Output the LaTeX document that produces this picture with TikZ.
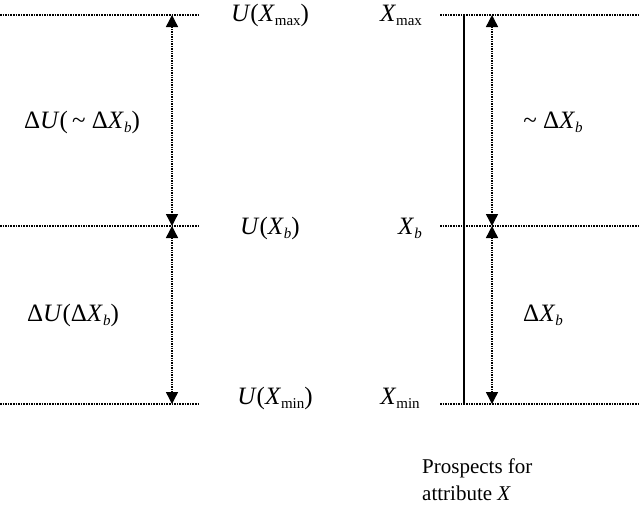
\documentclass[tikz,border=0pt]{standalone}
\usepackage{fontspec}
\setmainfont{Liberation Serif}
\usetikzlibrary{arrows.meta}
\newcommand{\sbm}[1]{\raisebox{-0.35ex}{\fontsize{15}{15}\selectfont #1}}
\begin{document}
\begin{tikzpicture}[x=1pt,y=-1pt,
  lvl/.style={densely dotted,line width=1.6pt},
  arr/.style={densely dotted,line width=1.4pt,{Triangle[width=12pt,length=12pt]}-{Triangle[width=12pt,length=12pt]}},
  lab/.style={font=\fontsize{25}{28}\selectfont,inner sep=0pt}]
\useasboundingbox (0,0) rectangle (640,506);
\coordinate (l1a) at (0,15); \coordinate (l1b) at (200,15);
\coordinate (l2a) at (0,226); \coordinate (l2b) at (200,226);
\coordinate (l3a) at (0,404); \coordinate (l3b) at (200,404);
\coordinate (r1a) at (440,15); \coordinate (r1b) at (640,15);
\coordinate (r2a) at (440,226); \coordinate (r2b) at (640,226);
\coordinate (r3a) at (440,404); \coordinate (r3b) at (640,404);
\draw[lvl] (l1a)--(l1b); \draw[lvl] (l2a)--(l2b); \draw[lvl] (l3a)--(l3b);
\draw[lvl] (r1a)--(r1b); \draw[lvl] (r2a)--(r2b); \draw[lvl] (r3a)--(r3b);
\coordinate (a1) at (172,15); \coordinate (a2) at (172,226); \coordinate (a3) at (172,404);
\coordinate (b1) at (492,15); \coordinate (b2) at (492,226); \coordinate (b3) at (492,404);
\draw[arr] (a1)--(a2); \draw[arr] (a2)--(a3);
\draw[arr] (b1)--(b2); \draw[arr] (b2)--(b3);
\coordinate (s1) at (464,15); \coordinate (s2) at (464,404);
\draw[line width=1.6pt] (s1)--(s2);
\node[lab] (t1) at (270,15) {\textit{U}(\textit{X}\sbm{max})};
\node[lab] (t2) at (401,15) {\textit{X}\sbm{max}};
\node[lab] (t3) at (82,122) {Δ\textit{U}(\,\textasciitilde{} Δ\textit{X}\sbm{\textit{b}})};
\node[lab] (t4) at (270,228) {\textit{U}(\textit{X}\sbm{\textit{b}})};
\node[lab] (t5) at (410,228) {\textit{X}\sbm{\textit{b}}};
\node[lab] (t6) at (73,315) {Δ\textit{U}(Δ\textit{X}\sbm{\textit{b}})};
\node[lab] (t7) at (275,398) {\textit{U}(\textit{X}\sbm{min})};
\node[lab] (t8) at (400,398) {\textit{X}\sbm{min}};
\node[lab] (t9) at (553,122) {\textasciitilde{} Δ\textit{X}\sbm{\textit{b}}};
\node[lab] (t10) at (543,315) {Δ\textit{X}\sbm{\textit{b}}};
\node[lab,align=left,anchor=west,font=\fontsize{21}{27}\selectfont] (t11) at (422,480) {Prospects for\\attribute \textit{X}};
\end{tikzpicture}
\end{document}
